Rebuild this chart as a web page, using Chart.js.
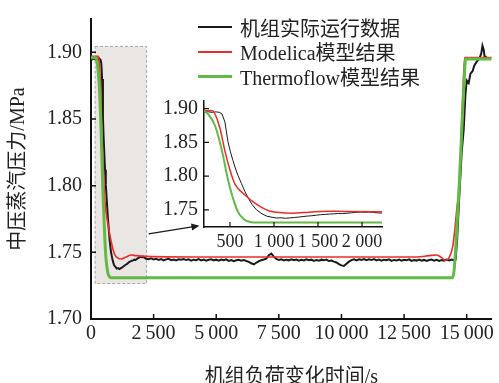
<!DOCTYPE html>
<html>
<head>
<meta charset="utf-8">
<script src="https://cdn.jsdelivr.net/npm/chart.js@4.4.1/dist/chart.umd.min.js"></script>
<style>
  html, body { margin: 0; padding: 0; background: #fff; }
  #wrap { position: relative; width: 499px; height: 383px; overflow: hidden; }
  #main { position: absolute; left: 0; top: 0; }
  #inset { position: absolute; left: 150px; top: 85px; }
  #legend { position: absolute; left: 198px; top: 15px; font: 20px "Liberation Serif", "Noto Sans CJK SC"; color: #222; }
  #legend .row { height: 24.5px; display: flex; align-items: center; white-space: nowrap; }
  #legend .sw { width: 34px; margin-right: 8px; }
</style>
</head>
<body>
<div id="wrap">
  <canvas id="main" width="499" height="383"></canvas>
  <canvas id="inset" width="240" height="175"></canvas>
  <div id="legend"></div>
</div>
<script>
// series names
const seriesNames = ['机组实际运行数据', 'Modelica模型结果', 'Thermoflow模型结果'];

// measured data: start of the load change (time s, pressure MPa)
const actualStartT = [0, 50, 100, 150, 200, 250, 300, 340, 380, 410, 443, 477, 505, 534, 560, 591, 630, 670, 710, 750, 800, 864, 920, 977, 1030, 1080, 1130, 1180, 1230, 1280, 1330, 1380, 1430, 1480, 1530, 1580, 1630, 1680, 1730, 1780, 1830, 1880, 1930, 1980, 2030, 2080, 2130];
const actualStartP = [1.8952, 1.8948, 1.8955, 1.8950, 1.8946, 1.8953, 1.8944, 1.8952, 1.8945, 1.8920, 1.880, 1.851, 1.836, 1.823, 1.812, 1.801, 1.789, 1.777, 1.767, 1.758, 1.750, 1.7440, 1.7405, 1.7390, 1.7378, 1.7382, 1.7374, 1.7380, 1.7386, 1.7392, 1.7400, 1.7407, 1.7412, 1.7420, 1.7428, 1.7432, 1.7437, 1.7440, 1.7445, 1.7443, 1.7450, 1.7456, 1.7462, 1.7466, 1.7463, 1.7467, 1.7460];

// measured data: steady low load, one sample each 100 s from 2200 s
const steadyT0 = 2200;
const steadyDt = 100;
const actualSteadyP = [
  1.7452, 1.7448, 1.7455, 1.7446, 1.7451, 1.7443, 1.7449, 1.7440, 1.7447, 1.7452,
  1.7441, 1.7446, 1.7439, 1.7448, 1.7444, 1.7450, 1.7442, 1.7447, 1.7438, 1.7445,
  1.7441, 1.7449, 1.7440, 1.7446, 1.7437, 1.7444, 1.7448, 1.7440, 1.7445, 1.7438,
  1.7446, 1.7441, 1.7447, 1.7436, 1.7442, 1.7434, 1.7440, 1.7444, 1.7438, 1.7443,
  1.7435, 1.7428, 1.7418, 1.7410, 1.7422, 1.7433, 1.7441, 1.7446, 1.7452, 1.7478,
  1.7490, 1.7468, 1.7450, 1.7442, 1.7447, 1.7439, 1.7445, 1.7440, 1.7448, 1.7441,
  1.7446, 1.7437, 1.7444, 1.7439, 1.7447, 1.7441, 1.7445, 1.7436, 1.7443, 1.7438,
  1.7445, 1.7440, 1.7446, 1.7435, 1.7438, 1.7430, 1.7424, 1.7412, 1.7402, 1.7398,
  1.7415, 1.7430, 1.7442, 1.7447, 1.7440, 1.7448, 1.7443, 1.7450, 1.7441, 1.7447,
  1.7442, 1.7449, 1.7440, 1.7446, 1.7438, 1.7445, 1.7441, 1.7447, 1.7436, 1.7443,
  1.7439, 1.7446, 1.7437, 1.7444, 1.7440, 1.7447, 1.7436, 1.7442, 1.7438, 1.7445,
  1.7437, 1.7443, 1.7435, 1.7442, 1.7446, 1.7438, 1.7444, 1.7436, 1.7443, 1.7437,
  1.7445, 1.7439, 1.7446, 1.7440
];

// measured data: load back up
const actualEndT = [14560, 14620, 14700, 14800, 14880, 14950, 15000, 15080, 15150, 15240, 15300, 15400, 15500, 15580, 15630, 15680, 15720, 15800];
const actualEndP = [1.7445, 1.760, 1.790, 1.825, 1.842, 1.868, 1.879, 1.877, 1.884, 1.886, 1.890, 1.893, 1.895, 1.899, 1.905, 1.902, 1.896, 1.897];

// Modelica model
const modelicaT = [0, 300, 330, 386, 443, 500, 557, 670, 784, 932, 1090, 1200, 1400, 1600, 1800, 2200, 5000, 9000, 13000, 13500, 13800, 14000, 14150, 14300, 14450, 14520, 14620, 14720, 14800, 14870, 14920, 16000];
const modelicaP = [1.897, 1.897, 1.892, 1.871, 1.837, 1.809, 1.788, 1.772, 1.760, 1.749, 1.7455, 1.745, 1.7465, 1.748, 1.7475, 1.747, 1.7465, 1.7465, 1.7465, 1.7475, 1.748, 1.746, 1.744, 1.746, 1.755, 1.766, 1.785, 1.800, 1.848, 1.880, 1.896, 1.896];

// Thermoflow model
const thermoflowT = [0, 200, 250, 330, 410, 477, 557, 600, 636, 680, 727, 800, 14440, 14500, 14600, 14700, 14800, 14900, 14960, 16000];
const thermoflowP = [1.896, 1.896, 1.892, 1.875, 1.837, 1.795, 1.758, 1.745, 1.739, 1.734, 1.732, 1.731, 1.731, 1.737, 1.765, 1.800, 1.840, 1.880, 1.895, 1.895];

// tick values
const mainXTicks = [0, 2500, 5000, 7500, 10000, 12500, 15000];
const mainYTicks = [1.70, 1.75, 1.80, 1.85, 1.90];
const insetXTicks = [500, 1000, 1500, 2000];
const insetYTicks = [1.75, 1.80, 1.85, 1.90];

// axis ranges
const mainX = { min: 0, max: 16000 };
const mainY = { min: 1.70, max: 1.925 };
const insetX = { min: 205, max: 2227 };
const insetY = { min: 1.7245, max: 1.9113 };

// zoomed window and arrow (data coords of main chart)
const zoomBox = { x0: 160, x1: 2220, y0: 1.7266, y1: 1.9044 };
const arrowFrom = [2300, 1.7639];
const arrowTo = [4330, 1.7700];

const colors = ['#1a1a1a', '#ec2c27', '#62b946'];

function pts(ts, ps) { return ts.map((t, i) => ({ x: t, y: ps[i] })); }
const actualData = pts(actualStartT, actualStartP)
  .concat(actualSteadyP.map((p, i) => ({ x: steadyT0 + i * steadyDt, y: p })))
  .concat(pts(actualEndT, actualEndP));

function fmtThousands(sep) {
  return function (v) {
    const n = Math.round(v);
    if (n < 1000) return String(n);
    const s = String(n);
    return s.slice(0, s.length - 3) + sep + s.slice(-3);
  };
}

function fixedTicks(list) {
  return function (scale) { scale.ticks = list.map(v => ({ value: v })); };
}

const inwardTicks = {
  id: 'inwardTicks',
  afterDraw(chart, args, opts) {
    const { ctx, chartArea, scales: { x, y } } = chart;
    ctx.save();
    ctx.strokeStyle = '#111';
    ctx.lineWidth = opts.width;
    ctx.beginPath();
    x.ticks.forEach(t => {
      const px = x.getPixelForValue(t.value);
      ctx.moveTo(px, chartArea.bottom);
      ctx.lineTo(px, chartArea.bottom - opts.len);
    });
    y.ticks.forEach(t => {
      const py = y.getPixelForValue(t.value);
      ctx.moveTo(chartArea.left, py);
      ctx.lineTo(chartArea.left + opts.len, py);
    });
    ctx.stroke();
    ctx.restore();
  }
};

const zoomMarks = {
  id: 'zoomMarks',
  beforeDatasetsDraw(chart) {
    const { ctx, scales: { x, y } } = chart;
    const l = x.getPixelForValue(zoomBox.x0), r = x.getPixelForValue(zoomBox.x1);
    const t = y.getPixelForValue(zoomBox.y1), b = y.getPixelForValue(zoomBox.y0);
    ctx.save();
    ctx.fillStyle = '#e9e6e4';
    ctx.fillRect(l, t, r - l, b - t);
    ctx.setLineDash([3, 2]);
    ctx.strokeStyle = '#a8a8a8';
    ctx.lineWidth = 1;
    ctx.strokeRect(l, t, r - l, b - t);
    ctx.restore();
  },
  afterDatasetsDraw(chart) {
    const { ctx, scales: { x, y } } = chart;
    const x1 = x.getPixelForValue(arrowFrom[0]), y1 = y.getPixelForValue(arrowFrom[1]);
    const x2 = x.getPixelForValue(arrowTo[0]), y2 = y.getPixelForValue(arrowTo[1]);
    const a = Math.atan2(y2 - y1, x2 - x1);
    ctx.save();
    ctx.strokeStyle = '#1a1a1a';
    ctx.fillStyle = '#1a1a1a';
    ctx.lineWidth = 1.2;
    ctx.beginPath();
    ctx.moveTo(x1, y1);
    ctx.lineTo(x2 - 6 * Math.cos(a), y2 - 6 * Math.sin(a));
    ctx.stroke();
    ctx.beginPath();
    ctx.moveTo(x2, y2);
    ctx.lineTo(x2 - 8 * Math.cos(a) + 3.5 * Math.sin(a), y2 - 8 * Math.sin(a) - 3.5 * Math.cos(a));
    ctx.lineTo(x2 - 8 * Math.cos(a) - 3.5 * Math.sin(a), y2 - 8 * Math.sin(a) + 3.5 * Math.cos(a));
    ctx.closePath();
    ctx.fill();
    ctx.restore();
  }
};

const fontFamily = '"Liberation Serif", "Noto Sans CJK SC"';
const tickFont = { family: fontFamily, size: 20, lineHeight: 1 };
const smallTickFont = { family: fontFamily, size: 18, lineHeight: 1 };
const titleFont = { family: fontFamily, size: 20, lineHeight: 1 };

function makeDatasets(widths) {
  return [
    { label: seriesNames[0], data: actualData, borderColor: colors[0], borderWidth: widths[0], tension: 0 },
    { label: seriesNames[1], data: pts(modelicaT, modelicaP), borderColor: colors[1], borderWidth: widths[1], cubicInterpolationMode: 'monotone' },
    { label: seriesNames[2], data: pts(thermoflowT, thermoflowP), borderColor: colors[2], borderWidth: widths[2], cubicInterpolationMode: 'monotone' }
  ].reverse();
}

Chart.defaults.color = '#222';
Chart.defaults.animation = false;

new Chart(document.getElementById('main'), {
  type: 'line',
  data: { datasets: makeDatasets([2, 1.6, 3]) },
  options: {
    responsive: false,
    elements: { point: { radius: 0 } },
    layout: { padding: { top: 12, right: 5, left: 0, bottom: 0 } },
    plugins: { legend: { display: false }, tooltip: { enabled: false }, inwardTicks: { len: 5, width: 1.5 } },
    scales: {
      x: {
        type: 'linear', min: mainX.min, max: mainX.max,
        afterBuildTicks: fixedTicks(mainXTicks),
        afterFit(s) { s.height = 64; },
        grid: { display: false, drawTicks: false },
        border: { display: true, color: '#111', width: 2 },
        ticks: { padding: 5, font: tickFont, maxRotation: 0, autoSkip: false, callback: fmtThousands('\u2009') },
        title: { display: true, text: '机组负荷变化时间/s', font: titleFont, padding: { top: 0, bottom: -5 } }
      },
      y: {
        type: 'linear', min: mainY.min, max: mainY.max,
        afterBuildTicks: fixedTicks(mainYTicks),
        afterFit(s) { s.width = 91; },
        grid: { display: false, drawTicks: false },
        border: { display: true, color: '#111', width: 2 },
        ticks: { padding: 9, font: tickFont, callback: v => v.toFixed(2) },
        title: { display: true, text: '中压蒸汽压力/MPa', font: titleFont, padding: { top: 9, bottom: 0 } }
      }
    }
  },
  plugins: [zoomMarks, inwardTicks]
});

new Chart(document.getElementById('inset'), {
  type: 'line',
  data: { datasets: makeDatasets([1, 1.5, 2]) },
  options: {
    responsive: false,
    elements: { point: { radius: 0 } },
    layout: { padding: { top: 10, right: 8, left: 0, bottom: 0 } },
    plugins: { legend: { display: false }, tooltip: { enabled: false }, inwardTicks: { len: 5, width: 1.2 } },
    scales: {
      x: {
        type: 'linear', min: insetX.min, max: insetX.max,
        afterBuildTicks: fixedTicks(insetXTicks),
        afterFit(s) { s.height = 33; },
        grid: { display: false, drawTicks: false },
        border: { display: true, color: '#111', width: 1.5 },
        ticks: { padding: 6, font: smallTickFont, maxRotation: 0, autoSkip: false, callback: fmtThousands(' ') }
      },
      y: {
        type: 'linear', min: insetY.min, max: insetY.max,
        afterBuildTicks: fixedTicks(insetYTicks),
        afterFit(s) { s.width = 54; },
        grid: { display: false, drawTicks: false },
        border: { display: true, color: '#111', width: 1.5 },
        ticks: { padding: 6, font: tickFont, callback: v => v.toFixed(2) }
      }
    }
  },
  plugins: [inwardTicks]
});

// legend
const legendWidths = [1.6, 1.6, 3];
const legend = document.getElementById('legend');
seriesNames.forEach((name, i) => {
  const row = document.createElement('div');
  row.className = 'row';
  const sw = document.createElement('div');
  sw.className = 'sw';
  sw.style.height = legendWidths[i] + 'px';
  sw.style.background = colors[i];
  const txt = document.createElement('span');
  txt.textContent = name;
  row.appendChild(sw);
  row.appendChild(txt);
  legend.appendChild(row);
});
</script>
</body>
</html>
